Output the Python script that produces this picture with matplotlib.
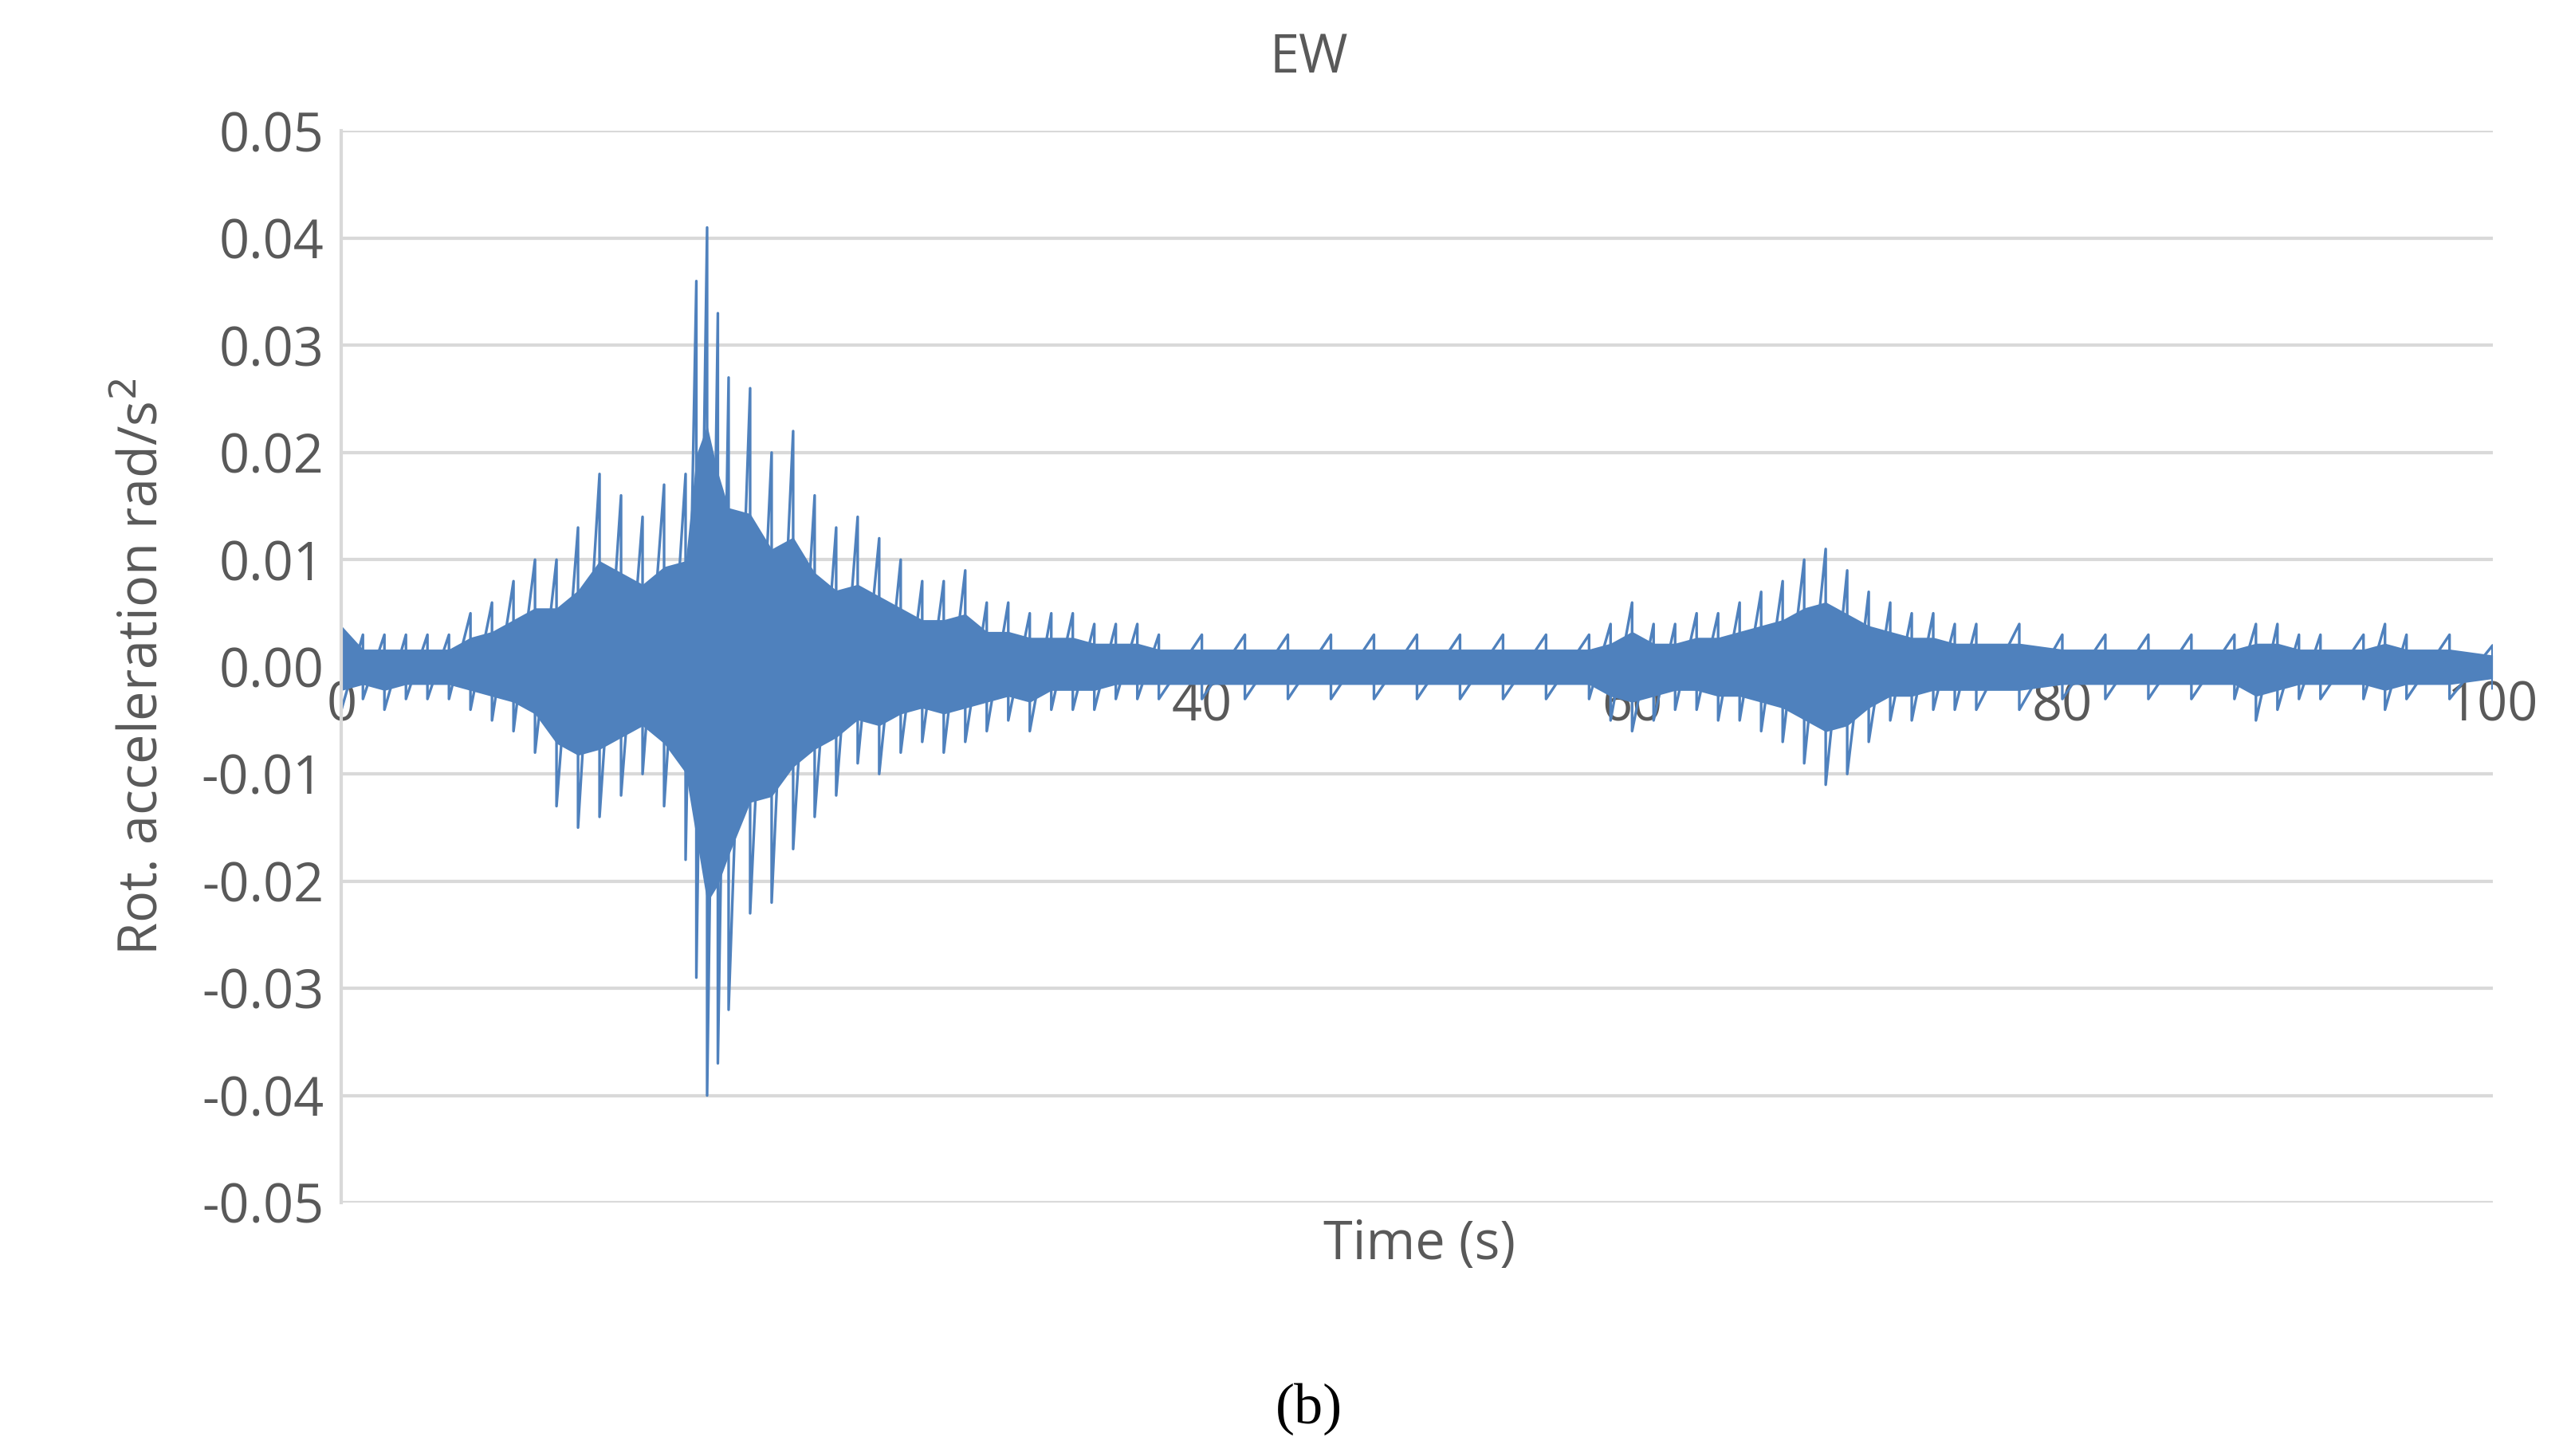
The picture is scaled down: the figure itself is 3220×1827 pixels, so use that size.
import matplotlib
matplotlib.use("Agg")
import matplotlib.pyplot as plt
import numpy as np

# Envelope of the trace (time s, upper peak, lower peak)
time = [0, 1, 2, 3, 4, 5, 6, 7, 8, 9, 10, 11, 12, 13, 14, 15, 16, 16.5, 17, 17.5, 18, 19, 20, 21, 22,
        23, 24, 25, 26, 27, 28, 29, 30, 31, 32, 33, 34, 35, 36, 37, 38, 40, 42, 44, 46, 48, 50, 52,
        54, 56, 58, 59, 60, 61, 62, 63, 64, 65, 66, 67, 68, 69, 70, 71, 72, 73, 74, 75, 76, 78, 80,
        82, 84, 86, 88, 89, 90, 91, 92, 94, 95, 96, 98, 100]
upper = [0.007, 0.003, 0.003, 0.003, 0.003, 0.003, 0.005, 0.006, 0.008, 0.010, 0.010, 0.013, 0.018,
         0.016, 0.014, 0.017, 0.018, 0.036, 0.041, 0.033, 0.027, 0.026, 0.020, 0.022, 0.016, 0.013,
         0.014, 0.012, 0.010, 0.008, 0.008, 0.009, 0.006, 0.006, 0.005, 0.005, 0.005, 0.004, 0.004,
         0.004, 0.003, 0.003, 0.003, 0.003, 0.003, 0.003, 0.003, 0.003, 0.003, 0.003, 0.003, 0.004,
         0.006, 0.004, 0.004, 0.005, 0.005, 0.006, 0.007, 0.008, 0.010, 0.011, 0.009, 0.007, 0.006,
         0.005, 0.005, 0.004, 0.004, 0.004, 0.003, 0.003, 0.003, 0.003, 0.003, 0.004, 0.004, 0.003,
         0.003, 0.003, 0.004, 0.003, 0.003, 0.002]
lower = [-0.004, -0.003, -0.004, -0.003, -0.003, -0.003, -0.004, -0.005, -0.006, -0.008, -0.013,
         -0.015, -0.014, -0.012, -0.010, -0.013, -0.018, -0.029, -0.040, -0.037, -0.032, -0.023,
         -0.022, -0.017, -0.014, -0.012, -0.009, -0.010, -0.008, -0.007, -0.008, -0.007, -0.006,
         -0.005, -0.006, -0.004, -0.004, -0.004, -0.003, -0.003, -0.003, -0.003, -0.003, -0.003,
         -0.003, -0.003, -0.003, -0.003, -0.003, -0.003, -0.003, -0.005, -0.006, -0.005, -0.004,
         -0.004, -0.005, -0.005, -0.006, -0.007, -0.009, -0.011, -0.010, -0.007, -0.005, -0.005,
         -0.004, -0.004, -0.004, -0.004, -0.003, -0.003, -0.003, -0.003, -0.003, -0.005, -0.004,
         -0.003, -0.003, -0.003, -0.004, -0.003, -0.003, -0.002]
yticks = [0.05, 0.04, 0.03, 0.02, 0.01, 0.0, -0.01, -0.02, -0.03, -0.04, -0.05]
xticks = [0, 20, 40, 60, 80, 100]

color = "#4F81BD"
gray = "#595959"
fs = 24

fig = plt.figure(figsize=(16.1, 9.135), dpi=200)
ax = fig.add_axes([0.133, 0.174, 0.838, 0.736])

ax.fill_between(time, np.array(upper) * 0.55, np.array(lower) * 0.55, color=color, lw=0, zorder=2)
zx, zy = [], []
for i, t in enumerate(time):
    zx += [t, t]
    zy += [upper[i], lower[i]]
ax.plot(zx, zy, color=color, lw=1.2, zorder=2)

ax.set_xlim(0, 100)
ax.set_ylim(-0.05, 0.05)
ax.grid(axis="y", color="#D9D9D9", lw=1.5, zorder=0)
ax.set_axisbelow(True)
for s in ["top", "right"]:
    ax.spines[s].set_visible(False)
ax.spines["left"].set_color("#D9D9D9")
ax.spines["left"].set_linewidth(1.5)
ax.spines["bottom"].set_position(("data", 0))
ax.spines["bottom"].set_visible(False)
ax.set_yticks(yticks)
ax.set_yticklabels([f"{v:.2f}" for v in yticks], family="Open Sans")
ax.set_xticks(xticks)
ax.set_xticklabels([str(v) for v in xticks], family="Open Sans")
ax.tick_params(axis="both", length=0, labelsize=fs, labelcolor=gray)
ax.tick_params(axis="y", pad=8)
ax.tick_params(axis="x", pad=6)
for lab in ax.get_xticklabels():
    lab.set_zorder(1)

ax.set_ylabel("Rot. acceleration rad/s$^2$", fontsize=fs, color=gray, family="Open Sans", labelpad=14)
fig.text(0.553, 0.145, "Time (s)", ha="center", va="center", fontsize=fs, color=gray, family="Open Sans")
fig.text(0.51, 0.96, "EW", ha="center", va="center", fontsize=fs, color=gray, family="Open Sans")
fig.text(0.51, 0.032, "(b)", ha="center", va="center", fontsize=26, color="black", family="Liberation Serif")

fig.savefig("out.png", dpi=200)
